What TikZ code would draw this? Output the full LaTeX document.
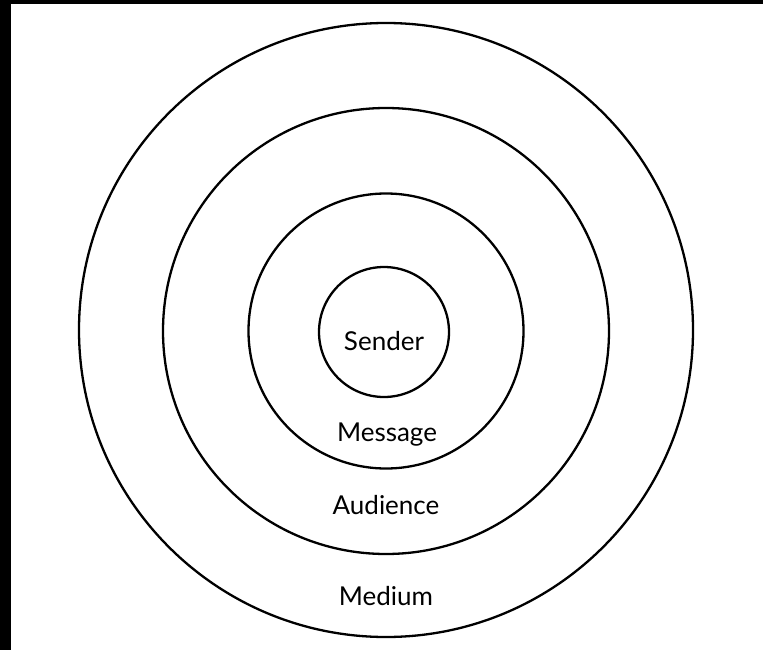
\documentclass[tikz,border=0pt]{standalone}
\usepackage{fontspec}
\setmainfont{Lato}
\begin{document}
\begin{tikzpicture}[x=1pt,y=-1pt,
  ring/.style={draw=black,line width=2.3pt,fill=none},
  lbl/.style={anchor=base,inner sep=0pt,font=\fontsize{26}{30}\selectfont}]
\useasboundingbox (0,0) rectangle (763,650);
\fill[white] (0,0) rectangle (763,650);
\fill[black] (0,0) rectangle (11,650);
\fill[black] (0,0) rectangle (763,4);
\node[ring,circle,minimum size=614pt,inner sep=0pt] (medium) at (386,330) {};
\node[ring,circle,minimum size=446pt,inner sep=0pt] (audience) at (386,331) {};
\node[ring,circle,minimum size=275pt,inner sep=0pt] (message) at (386,331) {};
\node[ring,circle,minimum size=130pt,inner sep=0pt] (sender) at (384,332) {};
\node[lbl] (tsender) at (384,350) {Sender};
\node[lbl] (tmessage) at (387,441) {Message};
\node[lbl] (taudience) at (386,514) {Audience};
\node[lbl] (tmedium) at (386,605) {Medium};
\end{tikzpicture}
\end{document}
